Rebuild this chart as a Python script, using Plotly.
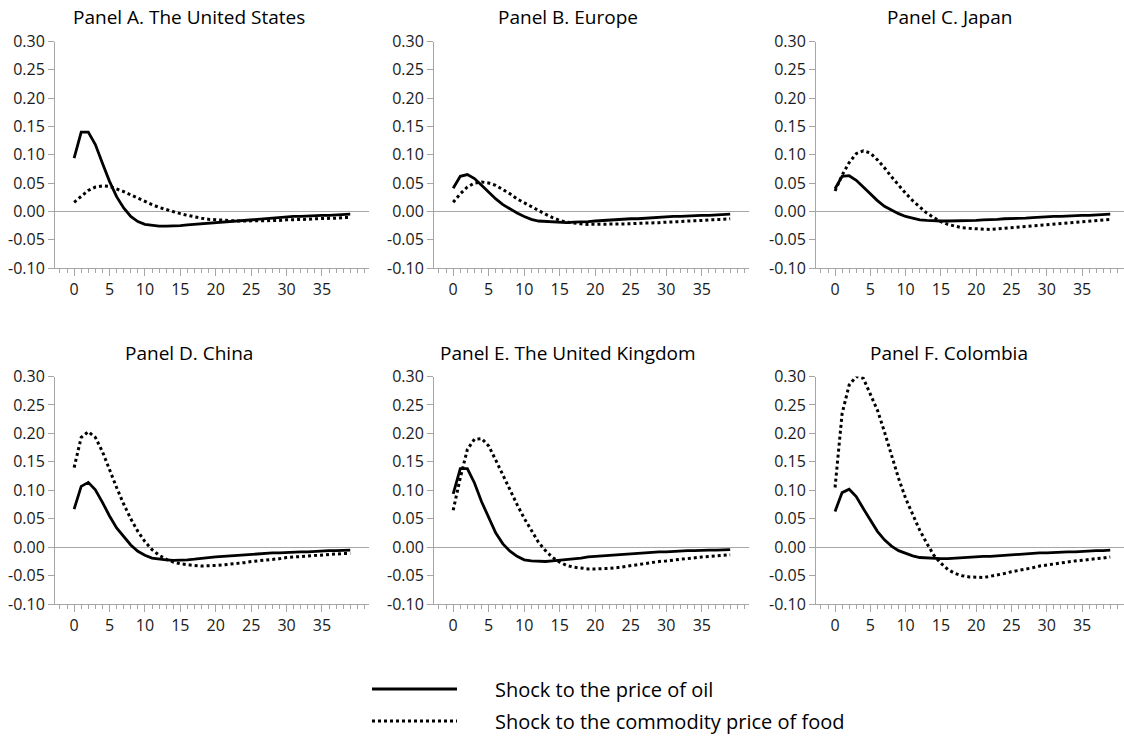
import plotly.graph_objects as go

periods = list(range(40))

panel_titles = ["Panel A. The United States", "Panel B. Europe", "Panel C. Japan",
                "Panel D. China", "Panel E. The United Kingdom", "Panel F. Colombia"]

oil_us = [0.094, 0.140, 0.140, 0.118, 0.085, 0.053, 0.026, 0.006, -0.009, -0.018,
          -0.023, -0.025, -0.026, -0.026, -0.026, -0.025, -0.024, -0.023, -0.022, -0.020,
          -0.019, -0.018, -0.017, -0.016, -0.015, -0.014, -0.013, -0.012, -0.011, -0.011,
          -0.010, -0.009, -0.009, -0.008, -0.008, -0.007, -0.007, -0.006, -0.006, -0.005]
food_us = [0.016, 0.027, 0.037, 0.043, 0.045, 0.044, 0.040, 0.035, 0.029, 0.023,
           0.017, 0.012, 0.007, 0.003, -0.001, -0.004, -0.007, -0.010, -0.012, -0.014,
           -0.015, -0.016, -0.017, -0.017, -0.017, -0.017, -0.017, -0.017, -0.016, -0.016,
           -0.015, -0.015, -0.014, -0.014, -0.013, -0.013, -0.012, -0.012, -0.011, -0.011]

oil_eu = [0.041, 0.062, 0.065, 0.058, 0.046, 0.034, 0.022, 0.012, 0.004, -0.003,
          -0.009, -0.014, -0.017, -0.018, -0.019, -0.020, -0.020, -0.019, -0.019, -0.018,
          -0.017, -0.016, -0.016, -0.015, -0.014, -0.013, -0.013, -0.012, -0.011, -0.011,
          -0.010, -0.009, -0.009, -0.008, -0.008, -0.007, -0.007, -0.006, -0.006, -0.005]
food_eu = [0.016, 0.031, 0.043, 0.050, 0.052, 0.050, 0.046, 0.039, 0.031, 0.022,
           0.015, 0.008, 0.001, -0.005, -0.011, -0.016, -0.019, -0.021, -0.022, -0.023,
           -0.023, -0.023, -0.023, -0.023, -0.022, -0.022, -0.021, -0.021, -0.020, -0.020,
           -0.019, -0.019, -0.018, -0.017, -0.017, -0.016, -0.015, -0.015, -0.014, -0.013]

oil_jp = [0.040, 0.062, 0.063, 0.055, 0.043, 0.031, 0.019, 0.009, 0.002, -0.004,
          -0.009, -0.012, -0.015, -0.016, -0.017, -0.017, -0.017, -0.017, -0.017, -0.016,
          -0.016, -0.015, -0.015, -0.014, -0.013, -0.013, -0.012, -0.012, -0.011, -0.010,
          -0.010, -0.009, -0.009, -0.008, -0.008, -0.007, -0.007, -0.006, -0.006, -0.005]
food_jp = [0.036, 0.064, 0.086, 0.102, 0.107, 0.103, 0.091, 0.077, 0.061, 0.046,
           0.032, 0.019, 0.008, -0.003, -0.011, -0.018, -0.023, -0.026, -0.029, -0.030,
           -0.031, -0.032, -0.032, -0.031, -0.030, -0.029, -0.028, -0.027, -0.025, -0.024,
           -0.023, -0.022, -0.021, -0.020, -0.019, -0.018, -0.017, -0.016, -0.015, -0.014]

oil_cn = [0.067, 0.107, 0.114, 0.101, 0.079, 0.055, 0.034, 0.018, 0.004, -0.007,
          -0.014, -0.019, -0.021, -0.022, -0.023, -0.023, -0.022, -0.021, -0.019, -0.018,
          -0.017, -0.016, -0.015, -0.014, -0.013, -0.012, -0.012, -0.011, -0.010, -0.010,
          -0.009, -0.009, -0.008, -0.008, -0.007, -0.007, -0.006, -0.006, -0.005, -0.005]
food_cn = [0.140, 0.193, 0.203, 0.193, 0.168, 0.136, 0.105, 0.076, 0.050, 0.028,
           0.010, -0.004, -0.014, -0.021, -0.026, -0.029, -0.031, -0.032, -0.033, -0.033,
           -0.032, -0.031, -0.030, -0.028, -0.027, -0.025, -0.024, -0.022, -0.021, -0.020,
           -0.018, -0.017, -0.016, -0.015, -0.014, -0.013, -0.013, -0.012, -0.011, -0.011]

oil_uk = [0.094, 0.138, 0.138, 0.113, 0.080, 0.051, 0.025, 0.006, -0.007, -0.016,
          -0.022, -0.024, -0.025, -0.025, -0.024, -0.023, -0.022, -0.020, -0.019, -0.017,
          -0.016, -0.015, -0.014, -0.013, -0.012, -0.011, -0.010, -0.010, -0.009, -0.008,
          -0.008, -0.007, -0.007, -0.006, -0.006, -0.005, -0.005, -0.005, -0.004, -0.004]
food_uk = [0.065, 0.122, 0.172, 0.190, 0.191, 0.178, 0.153, 0.126, 0.100, 0.075,
           0.051, 0.029, 0.009, -0.006, -0.018, -0.026, -0.032, -0.035, -0.037, -0.038,
           -0.038, -0.038, -0.037, -0.036, -0.034, -0.032, -0.031, -0.029, -0.027, -0.025,
           -0.024, -0.022, -0.021, -0.020, -0.018, -0.017, -0.016, -0.015, -0.014, -0.013]

oil_co = [0.063, 0.096, 0.102, 0.089, 0.068, 0.048, 0.028, 0.013, 0.002, -0.006,
          -0.011, -0.015, -0.018, -0.019, -0.020, -0.020, -0.020, -0.019, -0.019, -0.018,
          -0.017, -0.016, -0.016, -0.015, -0.014, -0.013, -0.013, -0.012, -0.011, -0.010,
          -0.010, -0.009, -0.009, -0.008, -0.008, -0.007, -0.007, -0.006, -0.006, -0.005]
food_co = [0.105, 0.235, 0.285, 0.300, 0.297, 0.270, 0.241, 0.203, 0.163, 0.121,
           0.086, 0.057, 0.030, 0.007, -0.014, -0.028, -0.039, -0.046, -0.050, -0.052,
           -0.053, -0.053, -0.051, -0.049, -0.046, -0.043, -0.041, -0.038, -0.036, -0.033,
           -0.031, -0.029, -0.027, -0.026, -0.024, -0.023, -0.021, -0.020, -0.019, -0.017]

oil_series = [oil_us, oil_eu, oil_jp, oil_cn, oil_uk, oil_co]
food_series = [food_us, food_eu, food_jp, food_cn, food_uk, food_co]

y_tick_vals = [-0.10, -0.05, 0.00, 0.05, 0.10, 0.15, 0.20, 0.25, 0.30]
y_tick_text = ["-0.10", "-0.05", "0.00", "0.05", "0.10", "0.15", "0.20", "0.25", "0.30"]
x_tick_vals = [0, 5, 10, 15, 20, 25, 30, 35]

legend_labels = ["Shock to the price of oil", "Shock to the commodity price of food"]

W, H = 1124, 738
FONT = "Open Sans"
AXIS_GREY = "#a6a6a6"


def px_x(p):
    return p / W


def px_y(p):
    return 1 - p / H


# pixel layout of panels (window pixels)
col_left = [55, 434, 816]
col_right = [369, 749, 1124]
col_xmax = [41.65, 41.65, 40.95]
row_top = [41.5, 376.5]
row_bot = [268.0, 604.2]
title_x = [189, 568, 949]
title_y = [17, 353]

fig = go.Figure()

for i in range(6):
    r, c = divmod(i, 3)
    n = i + 1
    xa = "x" if n == 1 else f"x{n}"
    ya = "y" if n == 1 else f"y{n}"
    fig.add_trace(go.Scatter(x=periods, y=oil_series[i], mode="lines",
                             line=dict(color="black", width=2.8),
                             xaxis=xa, yaxis=ya, showlegend=False,
                             name=legend_labels[0]))
    fig.add_trace(go.Scatter(x=periods, y=food_series[i], mode="lines",
                             line=dict(color="black", width=3, dash="3px,3px"),
                             xaxis=xa, yaxis=ya, showlegend=False,
                             name=legend_labels[1]))
    xkey = "xaxis" if n == 1 else f"xaxis{n}"
    ykey = "yaxis" if n == 1 else f"yaxis{n}"
    fig.layout[xkey] = dict(
        domain=[px_x(col_left[c]), min(1.0, px_x(col_right[c]))],
        anchor=ya, range=[-2.7, col_xmax[c]],
        automargin=False,
        showgrid=False, zeroline=False,
        showline=True, linecolor=AXIS_GREY, linewidth=1,
        tickmode="array", tickvals=x_tick_vals,
        ticks="outside", ticklen=7, tickcolor=AXIS_GREY, tickwidth=1,
        minor=dict(dtick=1, tick0=0, ticks="outside", ticklen=4,
                   tickcolor=AXIS_GREY, tickwidth=1, showgrid=False),
        tickfont=dict(family=FONT, size=16, color="#1a1a1a"),
        fixedrange=True,
    )
    fig.layout[ykey] = dict(
        domain=[px_y(row_bot[r]), px_y(row_top[r])],
        anchor=xa, range=[-0.10, 0.30],
        automargin=False,
        showgrid=False, zeroline=True, zerolinecolor=AXIS_GREY, zerolinewidth=1,
        showline=True, linecolor=AXIS_GREY, linewidth=1,
        tickmode="array", tickvals=y_tick_vals, ticktext=y_tick_text,
        ticks="outside", ticklen=6, tickcolor=AXIS_GREY, tickwidth=1,
        tickfont=dict(family=FONT, size=16, color="#1a1a1a"),
        fixedrange=True,
    )

annotations = []
for i in range(6):
    r, c = divmod(i, 3)
    annotations.append(dict(text=panel_titles[i], x=px_x(title_x[c]), y=px_y(title_y[r]),
                            xref="paper", yref="paper", xanchor="center", yanchor="middle",
                            showarrow=False, font=dict(family=FONT, size=19, color="black")))

# legend (drawn as keys + text below the panels)
leg_y = [689, 721]
leg_dash = ["solid", "3px,3px"]
shapes = []
for k in range(2):
    shapes.append(dict(type="line", xref="paper", yref="paper",
                       x0=px_x(372), x1=px_x(457), y0=px_y(leg_y[k]), y1=px_y(leg_y[k]),
                       line=dict(color="black", width=2.8 if k == 0 else 3, dash=leg_dash[k])))
    annotations.append(dict(text=legend_labels[k], x=px_x(493), y=px_y(leg_y[k]),
                            xref="paper", yref="paper", xanchor="left", yanchor="middle",
                            showarrow=False, font=dict(family=FONT, size=20, color="black")))

fig.update_layout(
    width=W, height=H,
    margin=dict(l=0, r=0, t=0, b=0, autoexpand=False),
    paper_bgcolor="white", plot_bgcolor="white",
    annotations=annotations, shapes=shapes,
    showlegend=False,
)

# remove the default page margin so the 1124x738 figure fills the window exactly
fig.write_html("out.html", config={"displayModeBar": False},
               post_script="document.body.style.margin='0px';document.body.style.overflow='hidden';")
